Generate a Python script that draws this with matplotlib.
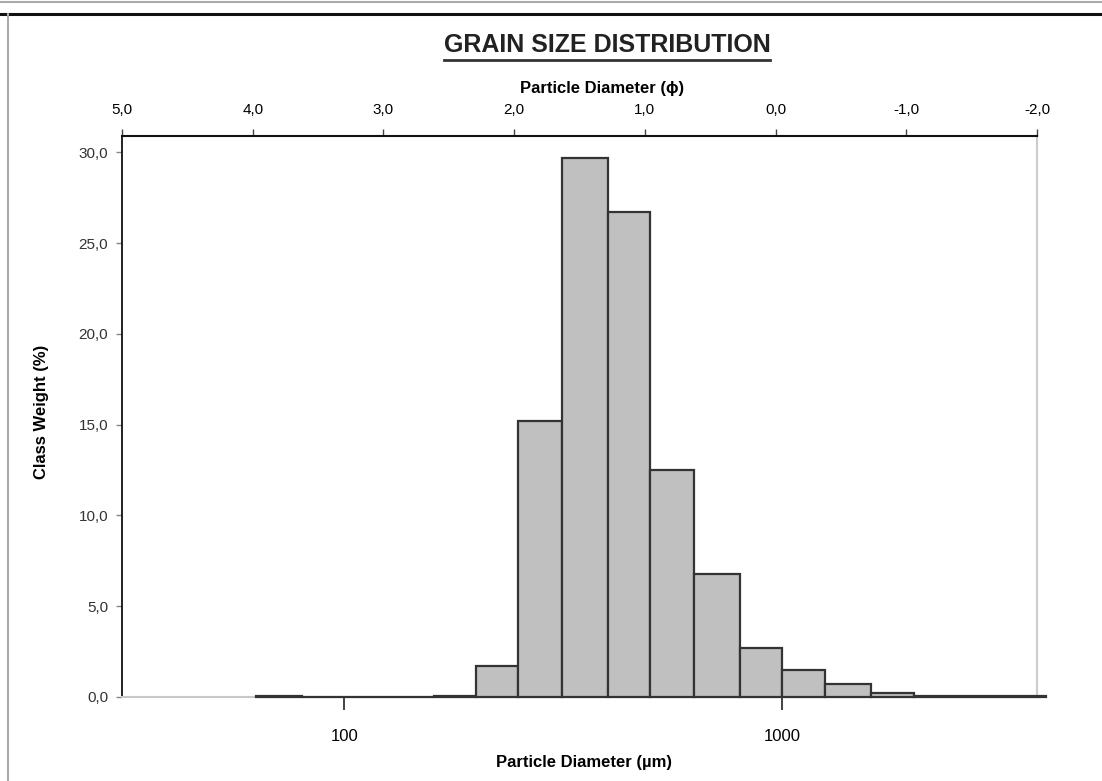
import numpy as np
import matplotlib.pyplot as plt
from matplotlib.lines import Line2D
from matplotlib.ticker import FuncFormatter, FixedLocator, NullLocator

# sieve classes (um) and class weights (%)
edges = [63, 80, 100, 125, 160, 200, 250, 315, 400, 500, 630, 800, 1000, 1250, 1600, 2000, 4000]
weights = [0.08, 0.02, 0.02, 0.02, 0.08, 1.7, 15.2, 29.7, 26.7, 12.5, 6.8, 2.7, 1.5, 0.7, 0.22, 0.08]
phi_ticks = [5, 4, 3, 2, 1, 0, -1, -2]
um_ticks = [100, 1000]

narrow = ['Liberation Sans Narrow', 'Liberation Sans', 'DejaVu Sans']
arial = ['Liberation Sans', 'DejaVu Sans']

comma = FuncFormatter(lambda v, p: f'{v:.1f}'.replace('.', ','))

fig = plt.figure(figsize=(11.02, 7.81), dpi=100)
ax = fig.add_axes([122/1102, 1-697/781, (1037-122)/1102, (697-136)/781])

left = np.array(edges[:-1], dtype=float)
right = np.array(edges[1:], dtype=float)
ax.bar(left, weights, width=right-left, align='edge', color='#c0c0c0',
       edgecolor='#333333', linewidth=1.6, clip_on=False, zorder=3)

ax.set_xscale('log')
ax.set_xlim(31.1, 3820)
ax.set_ylim(0, 30.9)
ax.xaxis.set_major_locator(FixedLocator(um_ticks))
ax.xaxis.set_minor_locator(NullLocator())
ax.set_xticklabels(['100', '1000'])
ax.set_yticks([0, 5, 10, 15, 20, 25, 30])
ax.yaxis.set_major_formatter(comma)

for lab in ax.get_xticklabels():
    lab.set_fontfamily(narrow)
    lab.set_fontsize(12)
for lab in ax.get_yticklabels():
    lab.set_fontfamily(arial)
    lab.set_fontsize(11)
    lab.set_color('#333333')

ax.tick_params(axis='x', direction='out', length=9, width=1.2, pad=14, color='#222222')
ax.tick_params(axis='y', direction='out', length=4, width=1, pad=6, color='#888888')

ax.spines['top'].set_visible(False)
ax.spines['left'].set_color('#111111')
ax.spines['left'].set_linewidth(1.3)
ax.spines['right'].set_color('#cccccc')
ax.spines['right'].set_linewidth(1.5)
ax.spines['bottom'].set_color('#c8c8c8')
ax.spines['bottom'].set_linewidth(1.5)

# phi scale on top
ax2 = ax.twiny()
ax2.set_xlim(5, -2)
ax2.set_xticks(phi_ticks)
ax2.xaxis.set_major_formatter(comma)
ax2.tick_params(axis='x', direction='out', length=5, width=1, pad=9, color='#444444')
for lab in ax2.get_xticklabels():
    lab.set_fontfamily(narrow)
    lab.set_fontsize(11)
for s in ['left', 'right', 'bottom']:
    ax2.spines[s].set_visible(False)
ax2.spines['top'].set_color('#111111')
ax2.spines['top'].set_linewidth(1.5)

fig.text(42/1102, 1-412/781, 'Class Weight (%)', rotation=90, ha='center', va='center',
         fontfamily=arial, fontsize=12, fontweight='bold')
fig.text(584/1102, 1-763/781, 'Particle Diameter (µm)', ha='center', va='center',
         fontfamily=narrow, fontsize=12, fontweight='bold')
fig.text(602/1102, 1-88/781, 'Particle Diameter (ϕ)', ha='center', va='center',
         fontfamily=narrow, fontsize=12, fontweight='bold')
title = fig.text(607/1102, 1-45/781, 'GRAIN SIZE DISTRIBUTION', ha='center', va='center',
                 fontfamily=narrow, fontsize=18, fontweight='bold', color='#222222')

# underline the title
fig.canvas.draw()
bb = title.get_window_extent()
W, H = fig.bbox.width, fig.bbox.height
uy = (bb.y0 - 3) / H
fig.add_artist(Line2D([bb.x0/W, bb.x1/W], [uy, uy], color='#333333', lw=2))

# outer frame
fig.add_artist(Line2D([0, 1], [1-1.5/781, 1-1.5/781], color='#aaaaaa', lw=1.5))
fig.add_artist(Line2D([0, 1], [1-14/781, 1-14/781], color='#111111', lw=2.2))
fig.add_artist(Line2D([8/1102, 8/1102], [0, 1-14/781], color='#aaaaaa', lw=1.5))

fig.savefig('out.png', dpi=100)
